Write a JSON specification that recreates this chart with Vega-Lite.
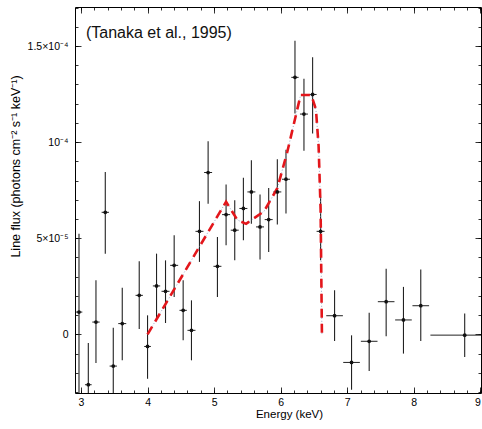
{
  "$schema": "https://vega.github.io/schema/vega-lite/v6.json",
  "width": 406,
  "height": 386,
  "autosize": {"type": "none"},
  "padding": {"left": 75, "top": 7, "right": 1, "bottom": 36},
  "config": {
    "view": {"stroke": "#000", "strokeWidth": 1},
    "axis": {
      "domain": false, "grid": false, "tickColor": "#000", "tickWidth": 0.8,
      "labelColor": "#000", "titleColor": "#000",
      "labelFont": "Liberation Sans", "titleFont": "Liberation Sans",
      "labelFontSize": 10.5, "titleFontSize": 11.5, "titleFontWeight": "normal"
    }
  },
  "datasets": {
    "pts": [
      {"E": 2.97, "flux": 1.16e-5, "lo": -3.05e-5, "hi": 5.24e-5, "xlo": 2.92, "xhi": 3.02},
      {"E": 3.11, "flux": -2.62e-5, "lo": -3.05e-5, "hi": -0.45e-5, "xlo": 3.06, "xhi": 3.16},
      {"E": 3.225, "flux": 0.64e-5, "lo": -1.49e-5, "hi": 2.81e-5, "xlo": 3.17, "xhi": 3.28},
      {"E": 3.365, "flux": 6.35e-5, "lo": 4.2e-5, "hi": 8.45e-5, "xlo": 3.31, "xhi": 3.42},
      {"E": 3.485, "flux": -1.65e-5, "lo": -3.05e-5, "hi": 0.35e-5, "xlo": 3.43, "xhi": 3.54},
      {"E": 3.62, "flux": 0.56e-5, "lo": -1.35e-5, "hi": 2.43e-5, "xlo": 3.56, "xhi": 3.68},
      {"E": 3.875, "flux": 2.03e-5, "lo": 0.28e-5, "hi": 3.8e-5, "xlo": 3.82, "xhi": 3.93},
      {"E": 4.0, "flux": -0.63e-5, "lo": -2.31e-5, "hi": 0.99e-5, "xlo": 3.95, "xhi": 4.05},
      {"E": 4.135, "flux": 2.52e-5, "lo": 0.82e-5, "hi": 4.2e-5, "xlo": 4.08, "xhi": 4.19},
      {"E": 4.27, "flux": 2.24e-5, "lo": 0.59e-5, "hi": 3.85e-5, "xlo": 4.21, "xhi": 4.33},
      {"E": 4.40, "flux": 3.59e-5, "lo": 1.95e-5, "hi": 5.16e-5, "xlo": 4.34, "xhi": 4.46},
      {"E": 4.535, "flux": 1.25e-5, "lo": -0.31e-5, "hi": 2.81e-5, "xlo": 4.48, "xhi": 4.59},
      {"E": 4.66, "flux": 0.21e-5, "lo": -1.35e-5, "hi": 1.77e-5, "xlo": 4.6, "xhi": 4.72},
      {"E": 4.78, "flux": 5.36e-5, "lo": 3.77e-5, "hi": 6.93e-5, "xlo": 4.72, "xhi": 4.84},
      {"E": 4.91, "flux": 8.42e-5, "lo": 6.8e-5, "hi": 10.05e-5, "xlo": 4.85, "xhi": 4.97},
      {"E": 5.05, "flux": 3.54e-5, "lo": 1.95e-5, "hi": 5.07e-5, "xlo": 4.99, "xhi": 5.11},
      {"E": 5.18, "flux": 6.23e-5, "lo": 4.64e-5, "hi": 7.8e-5, "xlo": 5.12, "xhi": 5.24},
      {"E": 5.31, "flux": 5.42e-5, "lo": 3.85e-5, "hi": 6.98e-5, "xlo": 5.25, "xhi": 5.37},
      {"E": 5.44, "flux": 6.55e-5, "lo": 4.9e-5, "hi": 8.15e-5, "xlo": 5.38, "xhi": 5.5},
      {"E": 5.56, "flux": 7.41e-5, "lo": 5.76e-5, "hi": 9.06e-5, "xlo": 5.5, "xhi": 5.62},
      {"E": 5.69, "flux": 5.59e-5, "lo": 3.89e-5, "hi": 7.27e-5, "xlo": 5.63, "xhi": 5.75},
      {"E": 5.82, "flux": 5.97e-5, "lo": 4.29e-5, "hi": 7.62e-5, "xlo": 5.76, "xhi": 5.88},
      {"E": 5.95, "flux": 7.41e-5, "lo": 5.71e-5, "hi": 9.11e-5, "xlo": 5.89, "xhi": 6.01},
      {"E": 6.08, "flux": 8.07e-5, "lo": 6.29e-5, "hi": 9.6e-5, "xlo": 6.02, "xhi": 6.14},
      {"E": 6.215, "flux": 13.37e-5, "lo": 11.49e-5, "hi": 15.28e-5, "xlo": 6.16, "xhi": 6.27},
      {"E": 6.35, "flux": 11.46e-5, "lo": 9.55e-5, "hi": 13.3e-5, "xlo": 6.29, "xhi": 6.41},
      {"E": 6.48, "flux": 12.48e-5, "lo": 10.45e-5, "hi": 14.41e-5, "xlo": 6.42, "xhi": 6.54},
      {"E": 6.60, "flux": 5.36e-5, "lo": 3.85e-5, "hi": 7.15e-5, "xlo": 6.54, "xhi": 6.66},
      {"E": 6.81, "flux": 0.97e-5, "lo": -0.35e-5, "hi": 2.29e-5, "xlo": 6.685, "xhi": 6.935},
      {"E": 7.065, "flux": -1.46e-5, "lo": -2.88e-5, "hi": -0.05e-5, "xlo": 6.94, "xhi": 7.19},
      {"E": 7.33, "flux": -0.36e-5, "lo": -1.91e-5, "hi": 1.13e-5, "xlo": 7.205, "xhi": 7.455},
      {"E": 7.585, "flux": 1.70e-5, "lo": -0.1e-5, "hi": 3.42e-5, "xlo": 7.46, "xhi": 7.71},
      {"E": 7.845, "flux": 0.75e-5, "lo": -1.0e-5, "hi": 2.47e-5, "xlo": 7.72, "xhi": 7.97},
      {"E": 8.105, "flux": 1.49e-5, "lo": -0.35e-5, "hi": 3.37e-5, "xlo": 7.98, "xhi": 8.23},
      {"E": 8.765, "flux": -0.04e-5, "lo": -1.18e-5, "hi": 1.08e-5, "xlo": 8.25, "xhi": 9.28}
    ],
    "model": [
      {"E": 4.0, "flux": 0.0},
      {"E": 5.18, "flux": 6.9e-5},
      {"E": 5.35, "flux": 5.95e-5},
      {"E": 5.48, "flux": 5.75e-5},
      {"E": 5.75, "flux": 6.4e-5},
      {"E": 5.95, "flux": 7.6e-5},
      {"E": 6.1, "flux": 9.5e-5},
      {"E": 6.3, "flux": 12.45e-5},
      {"E": 6.46, "flux": 12.45e-5},
      {"E": 6.53, "flux": 11.7e-5},
      {"E": 6.57, "flux": 9.8e-5},
      {"E": 6.6, "flux": 6.5e-5},
      {"E": 6.62, "flux": 0.0}
    ]
  },
  "layer": [
    {
      "data": {"name": "pts"},
      "mark": {"type": "rule", "color": "#222", "strokeWidth": 1.1, "clip": true},
      "encoding": {
        "x": {"field": "E", "type": "quantitative",
          "scale": {"domain": [2.91, 9.01], "nice": false, "zero": false},
          "axis": {"orient": "bottom", "values": [3, 4, 5, 6, 7, 8, 9], "format": "d", "tickSize": -6, "labelPadding": 10,
            "title": "Energy (keV)", "titleX": 214, "titleY": 15, "titleAlign": "center", "titleBaseline": "top"}},
        "y": {"field": "lo", "type": "quantitative",
          "scale": {"domain": [-3.05e-5, 1.703e-4], "nice": false, "zero": false},
          "axis": {"orient": "left", "values": [0, 5e-5, 1e-4, 1.5e-4], "tickSize": -6, "labelPadding": 13,
            "labelExpr": "datum.value == 0 ? '0' : datum.value < 7e-5 ? '5×10⁻⁵' : datum.value < 1.2e-4 ? '10⁻⁴' : '1.5×10⁻⁴'",
            "title": "Line flux (photons cm⁻² s⁻¹ keV⁻¹)", "titleFontSize": 12.5, "titleX": -53, "titleY": 159, "titleAlign": "center", "titleBaseline": "bottom", "titleAngle": -90}},
        "y2": {"field": "hi"}
      }
    },
    {
      "data": {"name": "pts"},
      "mark": {"type": "rule", "color": "#222", "strokeWidth": 1, "clip": true},
      "encoding": {
        "x": {"field": "xlo", "type": "quantitative",
          "scale": {"domain": [2.91, 9.01], "nice": false, "zero": false},
          "axis": {"orient": "bottom", "values": [3, 3.2, 3.4, 3.6, 3.8, 4, 4.2, 4.4, 4.6, 4.8, 5, 5.2, 5.4, 5.6, 5.8, 6, 6.2, 6.4, 6.6, 6.8, 7, 7.2, 7.4, 7.6, 7.8, 8, 8.2, 8.4, 8.6, 8.8, 9], "tickSize": -3, "labels": false, "title": null}},
        "x2": {"field": "xhi"},
        "y": {"field": "flux", "type": "quantitative",
          "scale": {"domain": [-3.05e-5, 1.703e-4], "nice": false, "zero": false},
          "axis": {"orient": "left", "values": [-3e-5, -2e-5, -1e-5, 0, 1e-5, 2e-5, 3e-5, 4e-5, 5e-5, 6e-5, 7e-5, 8e-5, 9e-5, 1e-4, 1.1e-4, 1.2e-4, 1.3e-4, 1.4e-4, 1.5e-4, 1.6e-4, 1.7e-4], "tickSize": -3, "labels": false, "title": null}}
      }
    },
    {
      "data": {"name": "model"},
      "mark": {"type": "line", "color": "#7d8fb8", "strokeWidth": 0.8, "strokeDash": [1, 2], "clip": true},
      "encoding": {
        "x": {"field": "E", "type": "quantitative",
          "scale": {"domain": [2.91, 9.01], "nice": false, "zero": false},
          "axis": {"orient": "top", "values": [3, 4, 5, 6, 7, 8, 9], "tickSize": -6, "labels": false, "title": null}},
        "y": {"field": "flux", "type": "quantitative",
          "scale": {"domain": [-3.05e-5, 1.703e-4], "nice": false, "zero": false},
          "axis": {"orient": "right", "values": [0, 5e-5, 1e-4, 1.5e-4], "tickSize": -6, "labels": false, "title": null}}
      }
    },
    {
      "data": {"name": "model"},
      "mark": {"type": "line", "color": "#e3161b", "strokeWidth": 2.6, "strokeDash": [9, 6], "clip": true},
      "encoding": {
        "x": {"field": "E", "type": "quantitative",
          "scale": {"domain": [2.91, 9.01], "nice": false, "zero": false},
          "axis": {"orient": "top", "values": [3, 3.2, 3.4, 3.6, 3.8, 4, 4.2, 4.4, 4.6, 4.8, 5, 5.2, 5.4, 5.6, 5.8, 6, 6.2, 6.4, 6.6, 6.8, 7, 7.2, 7.4, 7.6, 7.8, 8, 8.2, 8.4, 8.6, 8.8, 9], "tickSize": -3, "labels": false, "title": null}},
        "y": {"field": "flux", "type": "quantitative",
          "scale": {"domain": [-3.05e-5, 1.703e-4], "nice": false, "zero": false},
          "axis": {"orient": "right", "values": [-3e-5, -2e-5, -1e-5, 0, 1e-5, 2e-5, 3e-5, 4e-5, 5e-5, 6e-5, 7e-5, 8e-5, 9e-5, 1e-4, 1.1e-4, 1.2e-4, 1.3e-4, 1.4e-4, 1.5e-4, 1.6e-4, 1.7e-4], "tickSize": -3, "labels": false, "title": null}}
      }
    },
    {
      "mark": {"type": "rule", "color": "#333", "strokeWidth": 0.8, "strokeDash": [8, 5]},
      "encoding": {
        "y": {"datum": 0, "type": "quantitative", "scale": {"domain": [-3.05e-5, 1.703e-4], "nice": false, "zero": false}, "axis": null},
        "x": {"datum": 2.91, "type": "quantitative", "scale": {"domain": [2.91, 9.01], "nice": false, "zero": false}, "axis": null},
        "x2": {"datum": 9.01}
      }
    },
    {
      "data": {"name": "pts"},
      "mark": {"type": "point", "filled": true, "color": "#111", "size": 14, "opacity": 1},
      "encoding": {
        "x": {"field": "E", "type": "quantitative", "scale": {"domain": [2.91, 9.01], "nice": false, "zero": false}, "axis": null},
        "y": {"field": "flux", "type": "quantitative", "scale": {"domain": [-3.05e-5, 1.703e-4], "nice": false, "zero": false}, "axis": null}
      }
    },
    {
      "data": {"values": [{"E": 3.075, "flux": 1.569e-4, "label": "(Tanaka et al., 1995)"}]},
      "mark": {"type": "text", "align": "left", "baseline": "middle", "font": "Liberation Sans", "fontSize": 16, "color": "#111"},
      "encoding": {
        "x": {"field": "E", "type": "quantitative", "scale": {"domain": [2.91, 9.01], "nice": false, "zero": false}, "axis": null},
        "y": {"field": "flux", "type": "quantitative", "scale": {"domain": [-3.05e-5, 1.703e-4], "nice": false, "zero": false}, "axis": null},
        "text": {"field": "label"}
      }
    }
  ],
  "resolve": {"axis": {"x": "independent", "y": "independent"}}
}
